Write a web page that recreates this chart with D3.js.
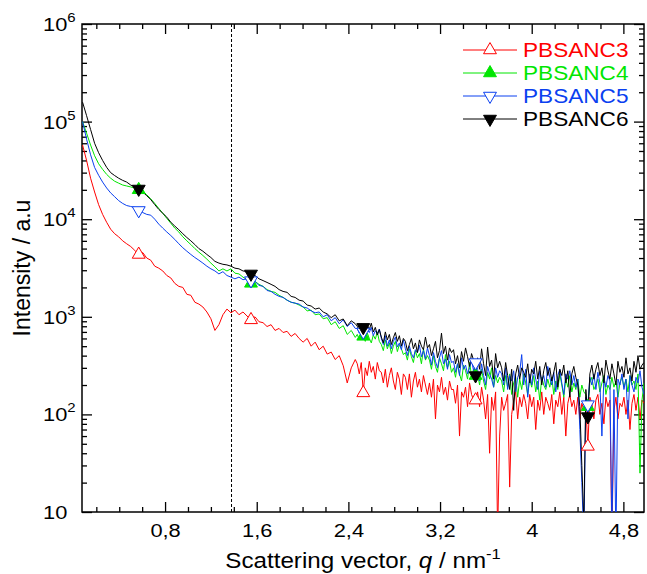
<!DOCTYPE html>
<html>
<head>
<meta charset="utf-8">
<script src="https://cdn.jsdelivr.net/npm/d3@7"></script>
<style>
  body { margin: 0; background: #fff; }
  text { font-family: "Liberation Sans", Arial, sans-serif; fill: #000; }
</style>
</head>
<body>
<div id="chart"></div>
<script>
// q sampling (nm^-1): coarse grid up to 2.46, finer grid from 2.4775 to 4.98
var qLowStart = 0.08, qLowStep = 0.035;
var qHighStart = 2.4775, qHighStep = 0.0175;

var seriesNames = ["PBSANC3", "PBSANC4", "PBSANC5", "PBSANC6"];

// intensities (a.u.)
var pbsanc3Low = [57500,40000,26300,19000,14100,11200,9300,7900,7100,6600,
  6000,5600,5250,4800,4350,4550,4000,3800,3300,3150,
  2950,2650,2500,2200,2050,2000,1700,1660,1410,1350,
  1260,1120,955,725,830,1050,1200,1100,1170,1050,
  1120,1020,930,1000,890,870,795,830,725,760,
  690,710,630,675,600,550,600,500,550,460,
  500,415,435,365,400,315,210,300,365];
var pbsanc3High = [330,260,340,166,300,250,350,270,310,230,340,280,
  270,210,290,190,250,300,220,180,270,230,160,260,
  240,180,260,150,220,270,190,230,170,250,200,160,
  210,150,230,90,200,170,240,160,190,140,220,180,
  180,130,200,60,170,150,190,120,210,160,140,140,
  170,120,190,140,90,160,40,150,110,170,6,60,
  150,110,130,160,18,100,140,170,90,150,120,160,
  130,90,160,120,150,70,140,110,170,100,150,130,
  110,160,80,140,120,170,100,150,60,130,160,120,
  140,100,150,90,130,110,120,47,150,130,90,140,
  160,100,130,80,150,120,140,5,110,150,90,130,
  120,150,100,140,70,130,160,110,150,90,140,130];

var pbsanc4Low = [100000,76000,57500,44700,37000,32400,28800,26300,24500,23400,
  22400,21900,21400,20900,20000,19500,17800,16200,14500,12900,
  11500,10200,9100,8100,7400,6600,6000,5500,5000,4600,
  4250,3900,3550,3250,2950,3100,2950,3100,2800,2750,
  2550,2400,2200,2300,2150,2050,1900,1820,1780,1660,
  1580,1480,1410,1380,1320,1260,1150,1170,1050,1070,
  955,980,830,890,760,810,660,725,615];
var pbsanc4High = [660,580,700,630,560,680,600,540,650,590,700,560,
  520,450,580,470,540,420,500,560,440,520,470,410,
  430,360,470,390,340,450,380,420,330,470,360,400,
  360,290,400,310,270,380,330,280,410,300,350,270,
  300,240,330,260,220,320,280,230,340,250,290,250,
  260,200,290,220,180,270,230,300,190,250,210,240,
  220,170,250,190,260,160,210,240,150,230,180,260,
  210,160,230,190,250,170,220,140,240,200,180,230,
  190,240,160,220,180,260,200,150,230,190,250,170,
  210,180,230,150,200,170,160,120,210,240,180,200,
  230,170,210,250,160,200,180,240,190,220,150,210,
  240,190,230,170,250,200,220,180,260,25,140,210];

var pbsanc5Low = [100000,66000,45700,33900,28200,24000,20900,18600,17000,15500,
  14500,13800,13500,13200,12300,11700,11200,11000,10000,8900,
  8100,7400,6800,6200,5600,5100,4700,4350,4050,3800,
  3550,3300,3100,2950,2750,2900,2650,2550,2450,2550,
  2400,2450,2350,2300,2100,2050,1860,1820,1700,1620,
  1580,1480,1410,1380,1350,1260,1230,1150,1100,1120,
  1000,1050,910,980,850,930,795,870,760];
var pbsanc5High = [760,680,800,700,650,740,690,780,640,720,670,750,
  600,520,640,500,580,470,560,620,490,540,460,580,
  470,400,500,420,380,460,430,510,390,450,370,480,
  400,320,430,350,300,380,450,330,370,290,410,340,
  350,270,330,250,380,290,320,260,300,360,280,340,
  290,220,330,250,200,310,260,230,190,300,240,280,
  260,200,300,180,250,220,280,170,240,270,410,200,
  290,150,260,200,300,230,180,280,220,250,190,310,
  240,200,270,170,250,290,210,160,260,230,280,200,
  250,190,230,70,20,5,150,126,240,200,260,180,
  270,210,60,240,190,250,220,6,180,5,230,200,
  260,180,230,90,250,200,170,240,210,280,190,160];

var pbsanc6Low = [158000,115000,83000,60000,48000,40000,34000,30000,28000,26300,
  25000,24000,22400,21400,20400,19000,17400,15900,14100,12600,
  11500,10500,9300,8500,7800,7100,6500,6000,5500,5000,
  4700,4350,4050,3700,3550,3450,3400,3300,3150,3100,
  2950,2900,2750,2650,2450,2350,2250,2150,2050,1900,
  1820,1780,1620,1580,1480,1450,1320,1290,1200,1230,
  1120,1070,980,1050,910,950,810,910,850];
var pbsanc6High = [800,720,850,780,690,820,740,860,700,780,650,740,
  620,540,700,580,660,520,610,690,560,640,500,600,
  560,450,520,600,470,540,430,580,500,460,620,480,
  520,400,470,560,380,450,680,420,500,360,480,430,
  460,330,400,300,440,350,480,390,310,420,360,250,
  380,290,470,330,250,490,310,360,230,420,300,350,
  300,220,340,250,180,290,110,260,320,230,300,270,
  240,330,210,290,260,350,230,310,200,280,340,250,
  300,220,270,340,190,290,250,320,210,280,150,260,
  310,240,200,120,30,8,180,95,260,320,230,290,
  340,250,300,210,360,280,230,330,260,200,350,270,
  310,240,380,260,300,220,350,270,400,290,320,340];

var markerQ = [0.57, 1.55, 2.53, 3.51, 4.49];
var xMajorTicks = [0.8, 1.6, 2.4, 3.2, 4.0, 4.8];
var xTickLabels = ["0,8", "1,6", "2,4", "3,2", "4", "4,8"];
var yMajorTicks = [10, 100, 1000, 10000, 100000, 1000000];
var dashedQ = 1.38;

function init(){
  // styles
  var colors = ["#ff0000", "#00e600", "#0a40f0", "#000000"];
  var markerType = [
    {rot: 0, filled: false},
    {rot: 0, filled: true},
    {rot: 180, filled: false},
    {rot: 180, filled: true}
  ];

  var w = 647, h = 574;
  var pLeft = 82, pRight = 644, pTop = 24, pBottom = 512;
  var sx = 1.15; // horizontal stretch of the original lettering

  var svg = d3.select("#chart").append("svg")
    .attr("width", w).attr("height", h);

  var xScale = d3.scaleLinear().domain([0.075, 4.98]).range([pLeft, pRight]);
  var yScale = d3.scaleLog().domain([10, 1e6]).range([pBottom, pTop]);

  function toPoints(low, high){
    var a = low.map(function(v, i){
      return {q: +(qLowStart + i * qLowStep).toFixed(4), v: v};
    });
    var b = high.map(function(v, j){
      return {q: +(qHighStart + j * qHighStep).toFixed(4), v: v};
    });
    return a.concat(b);
  }

  var raw = [[pbsanc3Low, pbsanc3High], [pbsanc4Low, pbsanc4High],
             [pbsanc5Low, pbsanc5High], [pbsanc6Low, pbsanc6High]];

  var allSeries = raw.map(function(r, k){
    return {
      name: seriesNames[k],
      color: colors[k],
      marker: markerType[k],
      points: toPoints(r[0], r[1])
    };
  });

  svg.append("clipPath").attr("id", "clip")
    .append("rect")
    .attr("x", pLeft).attr("y", pTop)
    .attr("width", pRight - pLeft).attr("height", pBottom - pTop);

  // minor ticks
  var xMinor = [];
  for (var t = 0.2; t < 4.98; t += 0.2) {
    var tr = +t.toFixed(1);
    if (xMajorTicks.indexOf(tr) < 0) xMinor.push(tr);
  }
  var yMinor = [];
  yMajorTicks.slice(0, -1).forEach(function(d){
    for (var m = 2; m <= 9; m++) yMinor.push(d * m);
  });

  function addAxis(axis, tx, ty){
    var g = svg.append("g")
      .attr("transform", "translate(" + tx + "," + ty + ")")
      .call(axis);
    g.select(".domain").remove();
    g.selectAll(".tick line").attr("stroke", "#000").attr("stroke-width", 1.3);
    return g;
  }

  // bottom axis
  var xAxis = addAxis(d3.axisBottom(xScale).tickValues(xMajorTicks)
    .tickSizeInner(-10).tickSizeOuter(0).tickPadding(12)
    .tickFormat(function(d, i){ return xTickLabels[i]; }), 0, pBottom);
  xAxis.selectAll(".tick text")
    .attr("font-size", 19)
    .attr("transform", "scale(" + sx + ",1)");
  addAxis(d3.axisBottom(xScale).tickValues(xMinor).tickSize(-5).tickFormat(""), 0, pBottom);

  // top axis
  addAxis(d3.axisTop(xScale).tickValues(xMajorTicks).tickSize(-10).tickFormat(""), 0, pTop);
  addAxis(d3.axisTop(xScale).tickValues(xMinor).tickSize(-5).tickFormat(""), 0, pTop);

  // left axis
  var yAxis = addAxis(d3.axisLeft(yScale).tickValues(yMajorTicks)
    .tickSizeInner(-10).tickSizeOuter(0).tickFormat(""), pLeft, 0);
  yAxis.selectAll(".tick").each(function(d){
    var e = Math.round(Math.log10(d));
    var txt = d3.select(this).append("text")
      .attr("x", -39 / sx)
      .attr("dy", "0.34em")
      .attr("text-anchor", "start")
      .attr("font-size", 19)
      .attr("transform", "scale(" + sx + ",1)");
    txt.append("tspan").text("10");
    if (e > 1) {
      txt.append("tspan").attr("font-size", 13).attr("dy", -9).text(e);
    }
  });
  addAxis(d3.axisLeft(yScale).tickValues(yMinor).tickSize(-5).tickFormat(""), pLeft, 0);

  // right axis
  addAxis(d3.axisRight(yScale).tickValues(yMajorTicks).tickSize(-10).tickFormat(""), pRight, 0);
  addAxis(d3.axisRight(yScale).tickValues(yMinor).tickSize(-5).tickFormat(""), pRight, 0);

  // frame
  svg.append("rect")
    .attr("x", pLeft).attr("y", pTop)
    .attr("width", pRight - pLeft).attr("height", pBottom - pTop)
    .attr("fill", "none").attr("stroke", "#000").attr("stroke-width", 1.5);

  // dashed guide
  svg.append("line")
    .attr("x1", xScale(dashedQ)).attr("x2", xScale(dashedQ))
    .attr("y1", pTop).attr("y2", pBottom)
    .attr("stroke", "#000").attr("stroke-width", 1)
    .attr("stroke-dasharray", "3,2");

  var line = d3.line()
    .x(function(d){ return xScale(d.q); })
    .y(function(d){ return yScale(d.v); });

  var plot = svg.append("g").attr("clip-path", "url(#clip)");

  allSeries.forEach(function(s){
    plot.append("path")
      .datum(s.points)
      .attr("d", line)
      .attr("fill", "none")
      .attr("stroke", s.color)
      .attr("stroke-width", 1)
      .attr("stroke-linejoin", "round");
  });

  var symbol = d3.symbol().type(d3.symbolTriangle).size(72);

  function drawMarker(g, s, px, py){
    g.append("path")
      .attr("d", symbol)
      .attr("transform", "translate(" + px + "," + py + ") rotate(" + s.marker.rot + ")")
      .attr("fill", s.marker.filled ? s.color : "#fff")
      .attr("stroke", s.color)
      .attr("stroke-width", 1);
  }

  allSeries.forEach(function(s){
    s.points.filter(function(d){
      return markerQ.some(function(m){ return Math.abs(d.q - m) < 0.005; });
    }).forEach(function(d){
      drawMarker(plot, s, xScale(d.q), yScale(d.v));
    });
  });

  // legend
  var legend = svg.append("g");
  allSeries.forEach(function(s, k){
    var ly = 50 + k * 23;
    legend.append("line")
      .attr("x1", 463).attr("x2", 517).attr("y1", ly).attr("y2", ly)
      .attr("stroke", s.color).attr("stroke-width", 1);
    drawMarker(legend, s, 490, ly);
    legend.append("text")
      .attr("transform", "translate(523," + (ly + 7) + ") scale(1.13,1)")
      .attr("font-size", 20)
      .style("fill", s.color)
      .text(s.name);
  });

  // axis titles
  var xt = svg.append("text")
    .attr("transform", "translate(" + ((pLeft + pRight) / 2) + ",568) scale(1.1,1)")
    .attr("text-anchor", "middle")
    .attr("font-size", 22);
  xt.append("tspan").text("Scattering vector, ");
  xt.append("tspan").attr("font-style", "italic").text("q");
  xt.append("tspan").text(" / nm");
  xt.append("tspan").attr("font-size", 15).attr("dy", -9).text("-1");

  svg.append("text")
    .attr("transform", "translate(30,268) rotate(-90)")
    .attr("text-anchor", "middle")
    .attr("font-size", 23)
    .text("Intensity / a.u");
}

window.onload = init;
</script>
</body>
</html>
